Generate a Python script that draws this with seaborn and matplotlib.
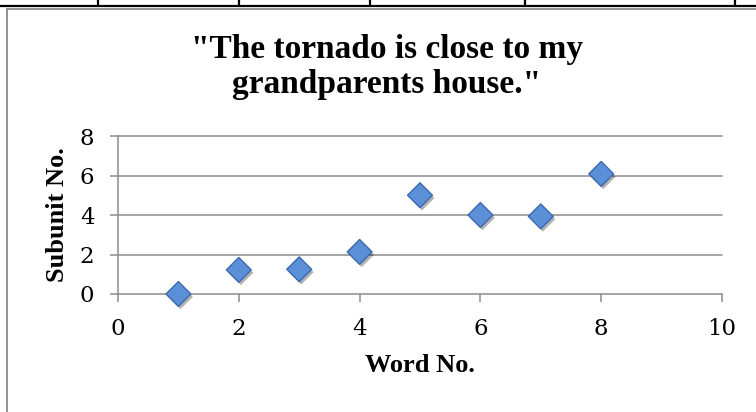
import matplotlib
matplotlib.use("Agg")
import matplotlib.pyplot as plt
import seaborn as sns
import numpy as np
from matplotlib import patheffects as pe
from matplotlib.lines import Line2D

# ---- data ----
word_no = [1, 2, 3, 4, 5, 6, 7, 8]
subunit_no = [0.0, 1.22, 1.25, 2.13, 5.0, 4.0, 3.93, 6.08]
x_ticks = [0, 2, 4, 6, 8, 10]
y_ticks = [0, 2, 4, 6, 8]
title_lines = ['"The tornado is close to my', 'grandparents house."']
x_label = "Word No."
y_label = "Subunit No."

sns.set_theme(style="white")
plt.rcParams["font.family"] = ["DejaVu Serif"]
plt.rcParams["text.color"] = "black"
plt.rcParams["axes.labelcolor"] = "black"
plt.rcParams["xtick.color"] = "black"
plt.rcParams["ytick.color"] = "black"

W, H = 756, 412
fig = plt.figure(figsize=(W / 100, H / 100), dpi=100)
fig.patch.set_facecolor("white")

def fx(px):
    return px / W

def fy(py):
    return 1 - py / H

# page decorations: table border above and chart frame
fig.add_artist(Line2D([0, 1], [fy(6), fy(6)], color="black", lw=1.6, transform=fig.transFigure))
for vx in [98, 239, 370, 525, 735]:
    fig.add_artist(Line2D([fx(vx), fx(vx)], [fy(0), fy(6)], color="black", lw=1.6, transform=fig.transFigure))
fig.add_artist(Line2D([fx(7), 1], [fy(8.5), fy(8.5)], color="#8a8a8a", lw=1.3, transform=fig.transFigure))
fig.add_artist(Line2D([fx(7), fx(7)], [fy(8.5), 0], color="#8a8a8a", lw=1.3, transform=fig.transFigure))

ax = fig.add_axes([fx(118), fy(294), fx(722) - fx(118), (294 - 136) / H])
ax.set_facecolor("none")

grid_col = "#8c8c8c"
sns.scatterplot(x=word_no, y=subunit_no, marker="D", s=160, color="#5b8fd8",
                edgecolor="#3c69ad", linewidth=1.0, ax=ax, zorder=5, clip_on=False)
for coll in ax.collections:
    coll.set_path_effects([pe.SimplePatchShadow(offset=(1.5, -2.0), shadow_rgbFace="black", alpha=0.3),
                           pe.Normal()])

ax.set_xlim(0, 10)
ax.set_ylim(0, 8)
ax.set_xticks(x_ticks)
ax.set_yticks(y_ticks)
ax.set_xticklabels([str(v) for v in x_ticks])
ax.set_yticklabels([str(v) for v in y_ticks])

ax.grid(False)
for yv in y_ticks[1:]:
    ax.axhline(yv, color=grid_col, lw=1.1, zorder=1, clip_on=False)

for s in ["top", "right"]:
    ax.spines[s].set_visible(False)
for s in ["left", "bottom"]:
    ax.spines[s].set_color(grid_col)
    ax.spines[s].set_linewidth(1.1)

ax.tick_params(axis="both", which="major", direction="out", length=6, width=1.1,
               color=grid_col, labelsize=16.5, labelcolor="black")
ax.tick_params(axis="x", pad=11, bottom=True)
ax.tick_params(axis="y", pad=11, left=True)

ax.set_xlabel(x_label, fontsize=19, fontweight="bold", family="Liberation Serif", color="black")
ax.set_ylabel(y_label, fontsize=19, fontweight="bold", family="Liberation Serif", color="black")
ax.xaxis.set_label_coords(0.5, (294 - 366) / 158)
ax.xaxis.label.set_va("center")
ax.yaxis.set_label_coords((57.5 - 118) / 604, 0.5)
ax.yaxis.label.set_va("center")

fig.text(fx(387), fy(58), title_lines[0], ha="center", va="baseline", color="black",
         fontsize=24, fontweight="bold", family="Liberation Serif")
fig.text(fx(387), fy(93), title_lines[1], ha="center", va="baseline", color="black",
         fontsize=24, fontweight="bold", family="Liberation Serif")

fig.savefig("out.png", dpi=100)
